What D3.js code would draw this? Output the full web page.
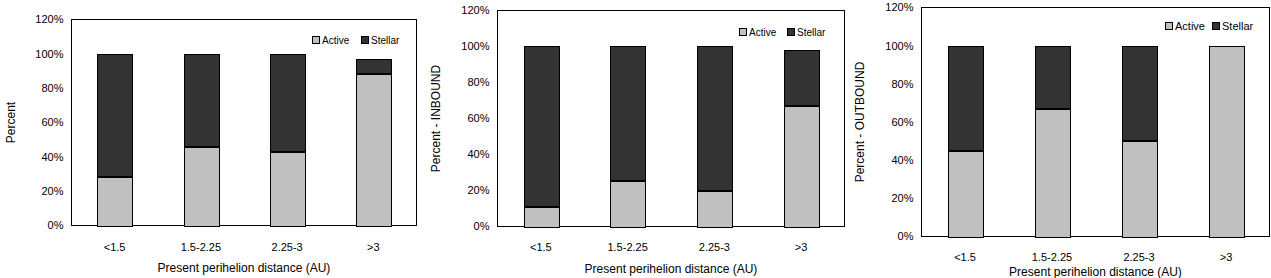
<!DOCTYPE html>
<html>
<head>
<meta charset="utf-8">
<script src="https://cdn.jsdelivr.net/npm/d3@7"></script>
<style>
  body { margin: 0; background: #fff; }
  svg { font-family: "Liberation Sans", Arial, sans-serif; }
  text { fill: #000; }
</style>
</head>
<body>
<svg id="chart" width="1271" height="278"></svg>
<script>
// data
const categories = ['<1.5', '1.5-2.25', '2.25-3', '>3']
const yTicks = [0, 20, 40, 60, 80, 100, 120]
const seriesNames = ['Active', 'Stellar']

const allActive = [28, 46, 43, 88]
const allStellar = [72, 54, 57, 9]
const inboundActive = [11, 25.5, 20, 67]
const inboundStellar = [89, 74.5, 80, 31]
const outboundActive = [45, 67, 50, 100]
const outboundStellar = [55, 33, 50, 0]

const colors = { Active: '#c0c0c0', Stellar: '#333333' }

const svg = d3.select('#chart')

// one panel per chart
function drawPanel(p) {
    const x = d3.scaleBand().domain(categories)
        .range([p.left, p.right]).paddingInner(0.6).paddingOuter(0.3)
    const y = d3.scaleLinear().domain([0, 120]).range([p.bottom, p.top])

    const g = svg.append('g')

    // frame
    g.append('rect')
        .attr('x', p.left).attr('y', p.top)
        .attr('width', p.right - p.left).attr('height', p.bottom - p.top)
        .attr('fill', 'none').attr('stroke', '#000')
        .attr('shape-rendering', 'crispEdges')

    // y tick labels
    g.selectAll('.ytick').data(yTicks).join('text')
        .attr('x', p.left - 8)
        .attr('y', d => y(d))
        .attr('dy', '0.35em')
        .attr('text-anchor', 'end')
        .attr('font-size', 11)
        .text(d => d + '%')

    // stacked bars
    const rows = categories.map((c, i) => ({ cat: c, Active: p.active[i], Stellar: p.stellar[i] }))
    const stack = d3.stack().keys(seriesNames)(rows)
    g.selectAll('.layer').data(stack).join('g')
        .attr('fill', d => colors[d.key])
        .selectAll('rect').data(d => d.filter(s => s[1] - s[0] > 0)).join('rect')
        .attr('x', d => Math.round(x(d.data.cat)) + 0.5)
        .attr('y', d => Math.round(y(d[1])) + 0.5)
        .attr('width', Math.round(x.bandwidth()))
        .attr('height', d => Math.round(y(d[0])) - Math.round(y(d[1])))
        .attr('stroke', '#000').attr('stroke-width', 1)

    // heavier line where the two segments meet
    g.selectAll('.seam').data(stack[0].filter(s => s.data.Stellar > 0)).join('line')
        .attr('x1', d => Math.round(x(d.data.cat)) + 0.5)
        .attr('x2', d => Math.round(x(d.data.cat)) + 0.5 + Math.round(x.bandwidth()))
        .attr('y1', d => Math.round(y(d[1])))
        .attr('y2', d => Math.round(y(d[1])))
        .attr('stroke', '#000').attr('stroke-width', 2)

    // x tick labels
    g.selectAll('.xtick').data(categories).join('text')
        .attr('x', d => x(d) + x.bandwidth() / 2)
        .attr('y', p.xLabelY)
        .attr('dy', '0.35em')
        .attr('text-anchor', 'middle')
        .attr('font-size', 11)
        .text(d => d)

    // axis titles
    g.append('text')
        .attr('x', (p.left + p.right) / 2)
        .attr('y', p.xTitleY)
        .attr('dy', '0.35em')
        .attr('text-anchor', 'middle')
        .attr('font-size', 12)
        .text('Present perihelion distance (AU)')
    g.append('text')
        .attr('transform', `translate(${p.yTitleX},${(p.top + p.bottom) / 2}) rotate(-90)`)
        .attr('dy', '0.35em')
        .attr('text-anchor', 'middle')
        .attr('font-size', 12)
        .text(p.yTitle)

    // legend
    const lg = g.selectAll('.leg').data(seriesNames).join('g')
        .attr('transform', (d, i) => `translate(${p.legendX[i]},${p.legendY})`)
    lg.append('rect')
        .attr('x', -3.5).attr('y', -3.5).attr('width', 7).attr('height', 7)
        .attr('fill', d => colors[d]).attr('stroke', '#000')
    lg.append('text')
        .attr('x', 6).attr('dy', '0.35em')
        .attr('font-size', p.legendSize)
        .text(d => d)
}

drawPanel({
    left: 71.5, right: 416.5, top: 19.5, bottom: 225.5,
    active: allActive, stellar: allStellar,
    yTitle: 'Percent', yTitleX: 11,
    xLabelY: 247, xTitleY: 268,
    legendX: [316, 365], legendY: 40, legendSize: 10
})
drawPanel({
    left: 497.5, right: 844.5, top: 10.5, bottom: 226.5,
    active: inboundActive, stellar: inboundStellar,
    yTitle: 'Percent - INBOUND', yTitleX: 436,
    xLabelY: 247, xTitleY: 269,
    legendX: [743, 791], legendY: 32, legendSize: 10
})
drawPanel({
    left: 921.5, right: 1269.5, top: 7.5, bottom: 236.5,
    active: outboundActive, stellar: outboundStellar,
    yTitle: 'Percent - OUTBOUND', yTitleX: 860,
    xLabelY: 257, xTitleY: 272,
    legendX: [1169, 1216], legendY: 26, legendSize: 11
})
</script>
</body>
</html>
